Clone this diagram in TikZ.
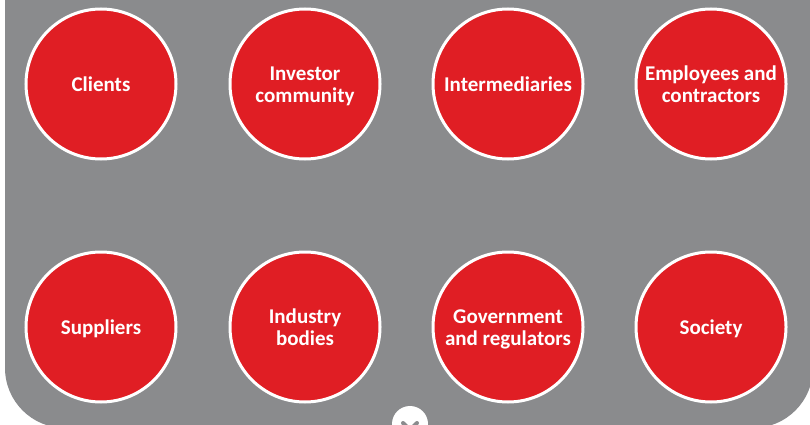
\documentclass[tikz,border=0pt]{standalone}
\usepackage{fontspec}
\setmainfont{Carlito}
\definecolor{panelgray}{RGB}{138,139,141}
\definecolor{stakered}{RGB}{224,30,36}
\begin{document}
\begin{tikzpicture}[x=1pt,y=-1pt,
  stake/.style={circle, fill=stakered, draw=white, line width=3pt,
    minimum size=150pt, inner sep=0pt},
  caption/.style={text=white, align=center, inner sep=0pt,
    font=\fontsize{21}{22}\selectfont\bfseries},
  % captions are centred on the circle, each line set on a strut so
  % that descenders do not move the block
  cap/.style={label={[caption, yshift=-3pt]center:#1}}]
  \useasboundingbox (0,0) rectangle (810,425);
  \begin{scope}
    \clip (0,0) rectangle (810,425);
    % grey panel behind the circles
    \fill[panelgray, rounded corners=60pt] (5,-70) rectangle (813,428);
    % small tab at the foot of the panel
    \fill[white] (410,424) circle (18);
    \draw[panelgray, line width=4pt, line cap=round, line join=round]
      (403,423) -- (410,430) -- (417,423);
  \end{scope}
  % top row
  \node[stake, cap={\strut Clients}] (clients) at (101,84) {};
  \node[stake, cap={\strut Investor\\\strut community}] (investor) at (305,84) {};
  \node[stake, cap={\strut Intermediaries}] (interm) at (508,84) {};
  \node[stake, cap={\strut Employees and\\\strut contractors}] (employees) at (711,84) {};
  % bottom row
  \node[stake, cap={\strut Suppliers}] (suppliers) at (101,327) {};
  \node[stake, cap={\strut Industry\\\strut bodies}] (industry) at (305,327) {};
  \node[stake, cap={\strut Government\\\strut and regulators}] (gov) at (508,327) {};
  \node[stake, cap={\strut Society}] (society) at (711,327) {};
\end{tikzpicture}
\end{document}
